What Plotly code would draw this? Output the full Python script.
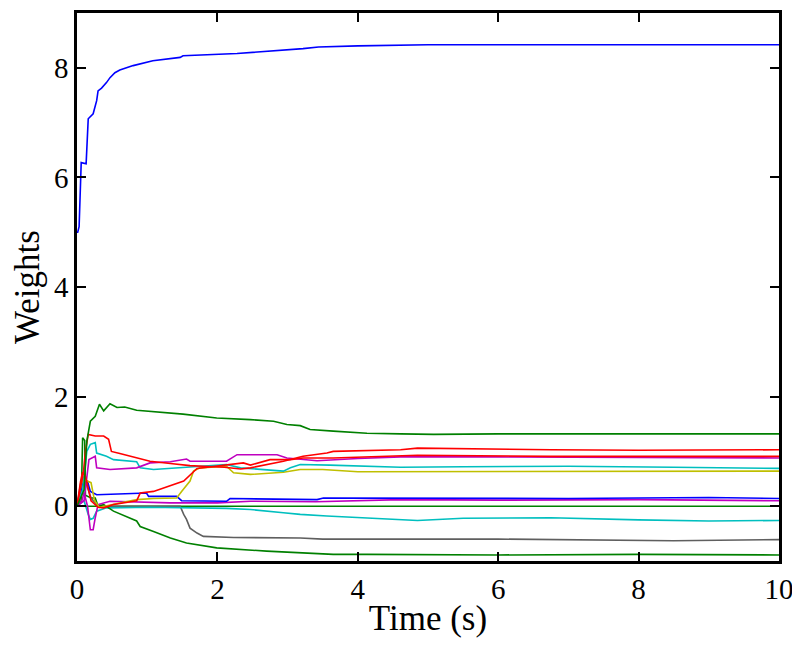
import plotly.graph_objects as go

# ---- data (time in s, weights) ----
t_blue_top = [0.0, 0.01, 0.03, 0.06, 0.13, 0.16, 0.23, 0.28, 0.30, 0.35, 0.42, 0.47, 0.54, 0.61, 0.80, 1.08, 1.47, 1.51, 2.28, 2.75, 3.22, 3.44, 4.0, 5.0, 6.0, 7.0, 8.0, 9.0, 10.0]
w_blue_top = [5.0, 5.0, 5.1, 6.27, 6.25, 7.07, 7.16, 7.40, 7.58, 7.63, 7.73, 7.82, 7.91, 7.96, 8.04, 8.13, 8.19, 8.22, 8.26, 8.30, 8.35, 8.38, 8.40, 8.42, 8.42, 8.41, 8.42, 8.42, 8.42]

t_green_top = [0.0, 0.1, 0.14, 0.19, 0.26, 0.32, 0.38, 0.47, 0.57, 0.68, 0.85, 1.04, 1.14, 1.51, 1.99, 2.37, 2.47, 2.80, 2.99, 3.18, 3.32, 3.65, 4.13, 4.61, 5.08, 6.0, 6.75, 8.0, 9.0, 10.0]
w_green_top = [0.0, 0.3, 1.19, 1.55, 1.64, 1.86, 1.74, 1.87, 1.80, 1.81, 1.75, 1.73, 1.72, 1.68, 1.61, 1.59, 1.58, 1.55, 1.49, 1.47, 1.40, 1.37, 1.33, 1.32, 1.31, 1.32, 1.32, 1.31, 1.32, 1.32]

t_red_a = [0.0, 0.05, 0.09, 0.12, 0.16, 0.26, 0.38, 0.45, 0.49, 0.61, 0.85, 1.04, 1.33, 1.61, 1.80, 2.10, 2.33, 2.47, 2.94, 3.22, 3.56, 3.65, 4.61, 4.85, 6.75, 8.0, 10.0]
w_red_a = [0.0, 0.3, 0.6, 1.0, 1.31, 1.28, 1.28, 1.22, 1.0, 0.96, 0.88, 0.82, 0.78, 0.74, 0.73, 0.71, 0.68, 0.70, 0.82, 0.91, 0.97, 1.0, 1.03, 1.06, 1.03, 1.02, 1.03]

t_red_b = [0.0, 0.05, 0.08, 0.12, 0.2, 0.3, 0.38, 0.52, 0.85, 0.9, 1.09, 1.33, 1.52, 1.71, 1.99, 2.37, 2.47, 2.75, 3.04, 3.22, 3.65, 4.85, 6.75, 10.0]
w_red_b = [0.0, 0.45, 0.62, 0.55, 0.1, -0.02, -0.03, 0.03, 0.10, 0.24, 0.27, 0.37, 0.46, 0.69, 0.73, 0.79, 0.75, 0.85, 0.85, 0.88, 0.88, 0.93, 0.91, 0.91]

t_magenta_up = [0.0, 0.1, 0.17, 0.21, 0.26, 0.28, 0.47, 0.85, 1.04, 1.33, 1.56, 1.61, 2.13, 2.28, 2.85, 2.99, 3.42, 4.0, 4.61, 6.0, 8.0, 10.0]
w_magenta_up = [0.0, 0.1, 0.85, 0.88, 0.91, 0.70, 0.67, 0.70, 0.79, 0.81, 0.86, 0.82, 0.82, 0.94, 0.94, 0.88, 0.83, 0.87, 0.90, 0.90, 0.89, 0.88]

t_cyan_up = [0.0, 0.08, 0.14, 0.19, 0.26, 0.28, 0.42, 0.52, 0.85, 0.90, 1.09, 1.47, 1.75, 2.13, 2.33, 2.80, 2.94, 3.04, 3.18, 3.6, 4.61, 5.5, 7.0, 8.5, 10.0]
w_cyan_up = [0.0, 0.3, 1.0, 1.13, 1.16, 0.97, 0.91, 0.85, 0.81, 0.70, 0.67, 0.70, 0.73, 0.76, 0.70, 0.66, 0.64, 0.70, 0.76, 0.75, 0.71, 0.72, 0.73, 0.71, 0.69]

t_yellow = [0.0, 0.06, 0.09, 0.2, 0.25, 0.32, 0.61, 0.85, 1.09, 1.42, 1.49, 1.61, 1.66, 1.75, 2.13, 2.23, 2.47, 2.94, 3.18, 3.5, 4.0, 5.0, 7.0, 10.0]
w_yellow = [0.0, 0.4, 0.49, 0.43, 0.1, -0.02, 0.06, 0.12, 0.14, 0.15, 0.27, 0.46, 0.64, 0.70, 0.73, 0.61, 0.58, 0.62, 0.67, 0.67, 0.63, 0.63, 0.64, 0.64]

t_blue_low = [0.0, 0.06, 0.1, 0.15, 0.19, 0.28, 0.47, 0.99, 1.02, 1.42, 1.49, 2.13, 2.18, 3.42, 3.51, 5.0, 7.0, 9.0, 10.0]
w_blue_low = [0.0, 0.3, 0.5, 0.45, 0.27, 0.21, 0.22, 0.24, 0.18, 0.18, 0.10, 0.09, 0.14, 0.12, 0.15, 0.15, 0.14, 0.16, 0.14]

t_magenta_low = [0.0, 0.07, 0.1, 0.15, 0.19, 0.23, 0.26, 0.30, 0.47, 1.33, 2.0, 2.47, 3.4, 4.61, 6.0, 8.0, 10.0]
w_magenta_low = [0.0, 0.1, 0.25, 0.0, -0.43, -0.43, -0.21, 0.03, 0.09, 0.06, 0.06, 0.09, 0.08, 0.12, 0.11, 0.12, 0.10]

t_green_zero = [0.0, 0.06, 0.08, 0.11, 0.12, 0.2, 0.26, 0.3, 10.0]
w_green_zero = [0.0, 0.1, 1.25, 1.2, 0.2, 0.15, 0.15, 0.0, 0.0]

t_cyan_low = [0.0, 0.1, 0.16, 0.19, 0.23, 0.28, 0.42, 1.04, 2.13, 2.47, 2.94, 3.18, 3.56, 4.13, 4.85, 5.5, 6.75, 8.0, 9.0, 10.0]
w_cyan_low = [0.0, 0.1, -0.15, -0.24, -0.22, -0.09, -0.03, -0.02, -0.04, -0.06, -0.12, -0.15, -0.18, -0.21, -0.26, -0.22, -0.21, -0.25, -0.27, -0.26]

t_gray = [0.0, 0.05, 0.08, 0.12, 0.2, 0.28, 0.4, 1.47, 1.52, 1.56, 1.61, 1.71, 1.80, 2.23, 3.18, 3.5, 4.5, 6.0, 8.5, 10.0]
w_gray = [0.0, 0.4, 0.55, 0.45, 0.15, 0.03, 0.0, 0.0, -0.15, -0.24, -0.40, -0.49, -0.55, -0.57, -0.58, -0.60, -0.60, -0.60, -0.63, -0.61]

t_green_bot = [0.0, 0.3, 0.38, 0.52, 0.85, 0.9, 1.09, 1.33, 1.56, 1.99, 2.7, 3.18, 3.65, 4.13, 6.0, 8.0, 10.0]
w_green_bot = [0.0, 0.0, 0.03, -0.09, -0.27, -0.37, -0.46, -0.58, -0.67, -0.76, -0.82, -0.85, -0.88, -0.88, -0.89, -0.88, -0.89]

x_ticks = [0, 2, 4, 6, 8, 10]
y_ticks = [0, 2, 4, 6, 8]

series = [
    (t_green_zero, w_green_zero, "#008000"),
    (t_gray, w_gray, "#5F5F5F"),
    (t_cyan_low, w_cyan_low, "#00BFBF"),
    (t_green_bot, w_green_bot, "#008000"),
    (t_magenta_low, w_magenta_low, "#BF00BF"),
    (t_blue_low, w_blue_low, "#0000FF"),
    (t_yellow, w_yellow, "#BFBF00"),
    (t_cyan_up, w_cyan_up, "#00BFBF"),
    (t_magenta_up, w_magenta_up, "#BF00BF"),
    (t_red_b, w_red_b, "#FF0000"),
    (t_red_a, w_red_a, "#FF0000"),
    (t_green_top, w_green_top, "#008000"),
    (t_blue_top, w_blue_top, "#0000FF"),
]

fig = go.Figure()
for t, w, c in series:
    fig.add_trace(go.Scatter(x=t, y=w, mode="lines", line=dict(color=c, width=1.6),
                             showlegend=False, hoverinfo="skip"))

axis_common = dict(showline=True, linecolor="black", linewidth=2.5, mirror="ticks",
                   ticks="inside", ticklen=9, tickwidth=1.5, tickcolor="black",
                   showgrid=False, zeroline=False, automargin=False)

# the page body adds an 8px offset, margins compensate so the plot box sits at 77..779 x 13..561
fig.update_layout(
    width=800, height=647,
    margin=dict(l=69, r=29, t=5, b=94),
    paper_bgcolor="white", plot_bgcolor="white",
    font=dict(family="Liberation Serif", size=29, color="black"),
    showlegend=False,
    xaxis=dict(range=[0, 10], tickvals=x_ticks, ticktext=[str(v) for v in x_ticks],
               title=dict(text="Time (s)", standoff=2), **axis_common),
    yaxis=dict(range=[-1, 9], tickvals=y_ticks, ticktext=[str(v) for v in y_ticks],
               title=dict(text="Weights", standoff=12), **axis_common),
)

fig.write_html("out.html")
